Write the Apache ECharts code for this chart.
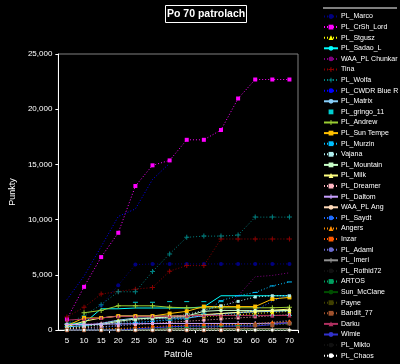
<!DOCTYPE html>
<html><head><meta charset="utf-8">
<script src="https://cdn.jsdelivr.net/npm/echarts@6/dist/echarts.min.js"></script>
<style>html,body{margin:0;padding:0;background:#000;}#c{width:400px;height:364px;}</style>
</head><body><div id="c"></div>
<script>
const categories = ['5','10','15','20','25','30','35','40','45','50','55','60','65','70'];
const yTickValues = [0, 5000, 10000, 15000, 20000, 25000];

const plMarco    = [null, null, 2230, 4070, 5930, 5990, 5990, 5990, 5990, 5990, 5990, 5990, 5990, 5990];
const plCrShLord = [1000, 3915, 6610, 8810, 13050, 14920, 15365, 17230, 17230, 18120, 20970, 22690, 22690, 22690];
const plStgusz   = [100, 300, 600, 900, 1000, 1100, 1150, 1200, 1250, 1300, 1400, 1500, 1600, 1700];
const plSadaoL   = [620, 620, 1930, 1930, 2000, 2000, 2000, 2000, 2100, 3110, 3110, 3110, 3110, 3110];
const waaChunkar = [300, 500, 700, 900, 1000, 1100, 1200, 1300, 1400, 1510, 3110, 4830, 4950, 5190];
const tina       = [1180, 2070, 3260, 3500, 3710, 3850, 5340, 5840, 5840, 8250, 8250, 8250, 8250, 8250];
const plWolfa    = [600, 1300, 2300, 3470, 3470, 5300, 6900, 8400, 8510, 8510, 8600, 10230, 10230, 10230];
const plCwdr     = [2760, 4890, 7560, 10290, 10970, 13640, 15100, null, null, null, null, null, null, null];
const plMatrix   = [300, 400, 600, 900, 1090, 1090, 1090, 1100, 1300, 1500, 1600, 1650, 1700, 1750];
const plGringo   = [null, null, null, null, 2520, 2520, 2580, 2580, 2580, 2580, 1330, 1330, 1330, 1330];
const plAndrew   = [null, 1570, 1780, 2200, 2200, 2200, 2070, 2020, 2020, 2020, 2020, 2020, 2020, 2070];
const sunTempe   = [400, 1100, 1100, 1270, 1270, 1270, 1500, 1700, 2130, 2130, 2130, 2130, 2820, 2960];
const plMurzin   = [300, 400, 500, 600, 700, 800, 900, 1000, 1480, 2670, 3110, 3410, 4000, 4360];
const vajana     = [200, 300, 500, 700, 900, 1000, 1200, 1400, 1800, 2200, 2600, 3000, 3110, 3110];
const plMountain = [500, 500, 500, 800, 1000, 1100, 1200, 1270, 1700, 1780, 1780, 1780, 1780, 1780];
const plMilk     = [300, 800, 1100, 1270, 1270, 1270, 1270, 1300, 1400, 1500, 1600, 1700, 1800, 1900];
const plDreamer  = [100, 200, 300, 400, 500, 600, 700, 800, 900, 1000, 1100, 1200, 1300, 1400];
const plDaltom   = [500, 520, 540, 560, 580, 590, 600, 600, 600, 600, 600, 600, 620, 650];
const waaAng     = [0, 0, 50, 50, 50, 50, 100, 100, 100, 100, 100, 100, 100, 100];
const plSaydt    = [0, 100, 200, 400, 600, 800, 1000, 1100, 1300, 1400, 1500, 1800, 2600, 3260];
const angers     = [0, 50, 100, 150, 200, 250, 300, 400, 450, 500, 500, 600, 700, 800];
const inzar      = [0, 0, 0, 100, 200, 300, 400, 445, 445, 445, 445, 445, 600, 700];
const plAdaml    = [0, 0, 0, 0, 0, 0, 0, 100, 200, 300, 400, 500, 700, 900];
const plImeri    = [30, 30, 30, 30, 30, 30, 30, 30, 30, 30, 30, 30, 30, 30];
const plRothid72 = [0, 0, 0, 0, 0, 0, 0, 0, 0, 0, 0, 0, 0, 0];
const artos      = [0, 0, 0, 50, 100, 150, 200, 250, 300, 350, 400, 450, 500, 550];
const sunMcClane = [0, 0, 0, 0, 0, 0, 0, 30, 30, 30, 30, 30, 30, 30];
const payne      = [0, 0, 0, 0, 0, 0, 0, 0, 0, 0, 0, 0, 0, 0];
const bandit77   = [0, 0, 0, 0, 0, 0, 0, 0, 0, 0, 100, 445, 445, 600];
const darku      = [900, 1000, 1100, 1250, 1250, 1250, 1250, 1300, 1330, 1330, 1330, 1330, 1330, 1330];
const wimie      = [0, 0, 0, 0, 100, 200, 300, 360, 360, 360, 360, 360, 500, 700];
const plMikto    = [0, 0, 0, 0, 0, 0, 0, 0, 0, 0, 0, 0, 0, 0];
const plChaos    = [0, 0, 0, 0, 0, 0, 0, 0, 0, 0, 0, 0, 0, 0];

const PLUS = 'path://M2,0L3,0L3,2L5,2L5,3L3,3L3,5L2,5L2,3L0,3L0,2L2,2Z';
const DOT = [1, 2];

// name, data, color, symbol, symbolSize, line type ('solid' | dotted | 'none')
const defs = [
  ['PL_Marco', plMarco, '#000080', 'circle', 4, DOT],
  ['PL_CrSh_Lord', plCrShLord, '#ff00ff', 'rect', 4, DOT],
  ['PL_Stgusz', plStgusz, '#ffff00', 'triangle', 4, DOT],
  ['PL_Sadao_L', plSadaoL, '#00ffff', 'none', 0, 'solid'],
  ['WAA_PL Chunkar', waaChunkar, '#800080', 'none', 0, DOT],
  ['Tina', tina, '#8b0000', PLUS, 5, DOT],
  ['PL_Wolfa', plWolfa, '#008080', PLUS, 5, DOT],
  ['PL_CWDR Blue R', plCwdr, '#0000ff', 'none', 0, DOT],
  ['PL_Matrix', plMatrix, '#87cefa', 'none', 0, 'solid'],
  ['PL_gringo_11', plGringo, '#00ced1', 'rect', [5, 1], 'none'],
  ['PL_Andrew', plAndrew, '#9acd32', PLUS, 5, 'solid'],
  ['PL_Sun Tempe', sunTempe, '#ffc000', 'rect', 4, 'solid'],
  ['PL_Murzin', plMurzin, '#00bfff', 'rect', [5, 1], DOT],
  ['Vajana', vajana, '#afeeee', 'rect', 3, DOT],
  ['PL_Mountain', plMountain, '#c8ffc8', 'rect', 3, 'solid'],
  ['PL_Milk', plMilk, '#ffff80', 'triangle', 4, 'solid'],
  ['PL_Dreamer', plDreamer, '#ffb6c1', 'rect', 3, DOT],
  ['PL_Daltom', plDaltom, '#c8a0ff', PLUS, 5, 'solid'],
  ['WAA_PL Ang', waaAng, '#ffdab9', 'none', 0, 'solid'],
  ['PL_Saydt', plSaydt, '#1e6cff', 'none', 0, DOT],
  ['Angers', angers, '#ff8c00', 'triangle', 4, DOT],
  ['Inzar', inzar, '#ff5a00', 'rect', 3, DOT],
  ['PL_Adaml', plAdaml, '#6a6acd', 'none', 0, DOT],
  ['PL_Imeri', plImeri, '#909090', PLUS, 5, 'solid'],
  ['PL_Rothid72', plRothid72, '#101010', 'none', 0, DOT],
  ['ARTOS', artos, '#00a060', 'rect', [5, 1], DOT],
  ['Sun_McClane', sunMcClane, '#004d00', 'none', 0, 'solid'],
  ['Payne', payne, '#404000', 'rect', 3, DOT],
  ['Bandit_77', bandit77, '#a0522d', 'rect', 4, DOT],
  ['Darku', darku, '#b03060', 'triangle', 4, 'solid'],
  ['Wimie', wimie, '#3232cd', 'none', 0, 'solid'],
  ['PL_Mikto', plMikto, '#101010', 'none', 0, DOT],
  ['PL_Chaos', plChaos, '#ffffff', 'circle', 3, DOT]
];

const series = defs.map(([name, data, color, symbol, size, lt]) => ({
  name, type: 'line', data,
  symbol, symbolSize: size, showSymbol: symbol !== 'none',
  itemStyle: { color },
  lineStyle: lt === 'none' ? { width: 0, color } : { width: 1, color, type: lt },
  connectNulls: false, silent: true
}));

const chart = echarts.init(document.getElementById('c'), null, { renderer: 'canvas' });
chart.setOption({
  backgroundColor: '#000',
  animation: false,
  title: {
    text: 'Po 70 patrolach', left: 165, top: 5,
    borderColor: '#fff', borderWidth: 1, padding: [4, 2, 3, 2],
    textStyle: { color: '#fff', fontSize: 10.5, fontWeight: 'bold', fontFamily: 'Liberation Sans' }
  },
  grid: { left: 36, right: 102, top: 54, bottom: 29, show: true, borderColor: '#808080', borderWidth: 1, backgroundColor: 'transparent' },
  xAxis: {
    type: 'category', data: categories, boundaryGap: true,
    name: 'Patrole', nameLocation: 'middle', nameGap: 19,
    nameTextStyle: { color: '#fff', fontSize: 9, fontFamily: 'Liberation Sans' },
    axisLine: { lineStyle: { color: '#fff', width: 1 } },
    axisTick: { show: true, length: 3, lineStyle: { color: '#fff' }, interval: (i) => i === 3 || i === 8 || i === 11 },
    axisLabel: { color: '#fff', fontSize: 8, margin: 7, fontFamily: 'Liberation Sans', interval: 0 },
    splitLine: { show: false }
  },
  yAxis: {
    type: 'value', min: yTickValues[0], max: yTickValues[yTickValues.length - 1], interval: 5000,
    name: 'Punkty', nameLocation: 'middle', nameGap: 26, nameRotate: 90,
    nameTextStyle: { color: '#fff', fontSize: 9, fontFamily: 'Liberation Sans' },
    axisLine: { show: true, lineStyle: { color: '#fff', width: 1 } },
    axisTick: { show: true, length: 3, lineStyle: { color: '#fff' } },
    axisLabel: { color: '#fff', fontSize: 8, margin: 6, fontFamily: 'Liberation Sans',
      formatter: v => v.toLocaleString('en-US') },
    splitLine: { show: false }
  },
  legend: {
    orient: 'vertical', left: 323, top: 13, padding: 0,
    itemWidth: 14, itemHeight: 6, itemGap: 3.6,
    textStyle: { color: '#fff', fontSize: 7, fontFamily: 'Liberation Sans', padding: [0, 0, 0, -2] },
    data: defs.map(d => d[0])
  },
  graphic: [{ type: 'line', shape: { x1: 323, y1: 8, x2: 397, y2: 8 }, style: { stroke: '#fff', lineWidth: 1 } }],
  series
});
</script></body></html>
